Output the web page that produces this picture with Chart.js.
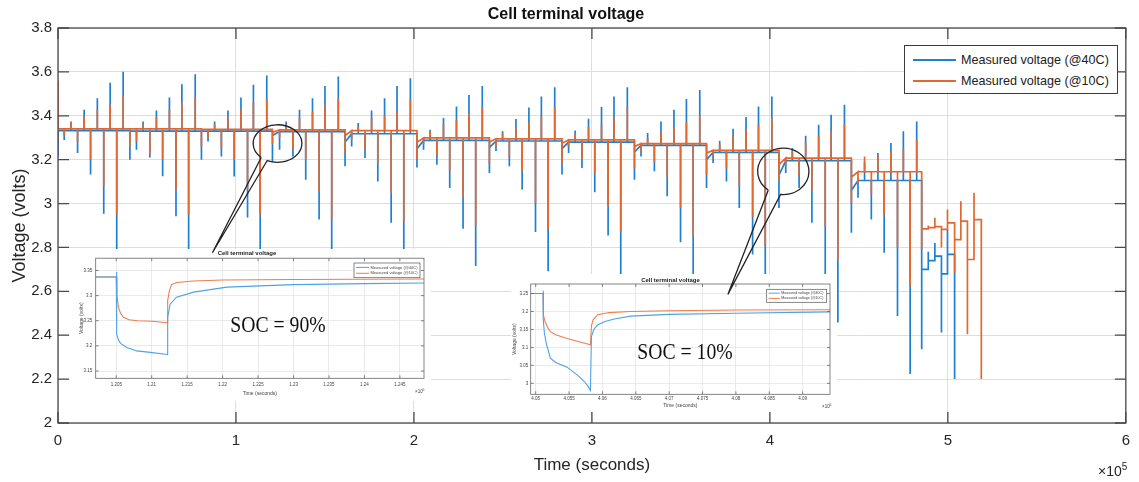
<!DOCTYPE html>
<html><head><meta charset="utf-8">
<script src="https://cdn.jsdelivr.net/npm/chart.js@4.4.1/dist/chart.umd.min.js"></script>
<style>
html,body{margin:0;padding:0;background:#fff;}
#wrap{position:relative;width:1139px;height:482px;overflow:hidden;background:#fff;font-family:'Liberation Sans',Arial,sans-serif;}
canvas{position:absolute;display:block;}
.inset{background:#fff;}
.soc{position:absolute;font-family:'Liberation Serif','Times New Roman',serif;font-size:24px;color:#111;white-space:nowrap;transform:translate(-50%,-50%) scaleX(0.82);}
#legend{position:absolute;left:904px;top:45px;width:212px;height:47px;border:1px solid #3c3c3c;background:#fff;font-size:12.6px;color:#222;}
.lrow{position:absolute;left:0;height:16px;display:flex;align-items:center;white-space:nowrap;}
.lline{display:inline-block;width:43px;height:2px;margin-left:8px;margin-right:5px;}
#xexp{position:absolute;left:1098px;top:461px;font-size:14px;color:#262626;}
#xexp sup{font-size:10px;}
</style></head><body>
<div id="wrap">
<canvas id="mainC" width="1139" height="482" style="left:0;top:0"></canvas>
<canvas id="in1C" class="inset" width="361" height="152" style="left:70px;top:249px"></canvas>
<canvas id="in2C" class="inset" width="326" height="138" style="left:511px;top:274px"></canvas>
<canvas id="overC" width="1139" height="482" style="left:0;top:0;pointer-events:none"></canvas>
<div class="soc" style="left:278px;top:324px">SOC = 90%</div>
<div class="soc" style="left:685px;top:351px">SOC = 10%</div>
<div id="legend">
  <div class="lrow" style="top:6px"><span class="lline" style="background:#1f80d0"></span><span>Measured voltage (@40C)</span></div>
  <div class="lrow" style="top:27px"><span class="lline" style="background:#e3682f"></span><span>Measured voltage (@10C)</span></div>
</div>
<div id="xexp">×10<sup>5</sup></div>
</div>
<script>
// ---------------- DATA (main chart, time in units of 1e5 s) ----------------
const xTicks = [0, 1, 2, 3, 4, 5, 6];
const xTickLabels = ['0', '1', '2', '3', '4', '5', '6'];
const yTicks = [2, 2.2, 2.4, 2.6, 2.8, 3, 3.2, 3.4, 3.6, 3.8];
const yTickLabels = ['2', '2.2', '2.4', '2.6', '2.8', '3', '3.2', '3.4', '3.6', '3.8'];

// pulse instants, one row per pulse group
const pulseTimes = [
  [0, 0.035, 0.073, 0.110, 0.147, 0.183, 0.221, 0.257, 0.293, 0.330, 0.366],
  [0.404, 0.441, 0.478, 0.516, 0.553, 0.588, 0.626, 0.663, 0.696, 0.734, 0.771],
  [0.806, 0.843, 0.880, 0.918, 0.955, 0.990, 1.028, 1.065, 1.098, 1.136, 1.173],
  [1.205, 1.245, 1.282, 1.320, 1.357, 1.392, 1.430, 1.467, 1.500, 1.538, 1.575],
  [1.613, 1.650, 1.687, 1.725, 1.762, 1.797, 1.835, 1.872, 1.905, 1.943, 1.980],
  [2.017, 2.054, 2.091, 2.129, 2.166, 2.201, 2.239, 2.276, 2.309, 2.347, 2.384],
  [2.424, 2.461, 2.498, 2.536, 2.573, 2.608, 2.646, 2.683, 2.716, 2.754, 2.791],
  [2.832, 2.869, 2.906, 2.944, 2.981, 3.016, 3.054, 3.091, 3.124, 3.162, 3.199],
  [3.239, 3.276, 3.313, 3.351, 3.388, 3.423, 3.461, 3.498, 3.531, 3.569, 3.606],
  [3.644, 3.681, 3.718, 3.756, 3.793, 3.828, 3.866, 3.903, 3.936, 3.974, 4.011],
  [4.051, 4.089, 4.126, 4.164, 4.201, 4.236, 4.274, 4.311, 4.344, 4.382, 4.419],
  [4.458, 4.495, 4.532, 4.570, 4.607, 4.642, 4.680, 4.717, 4.750, 4.788, 4.825]
];
// peak voltage of each pulse, @40C
const bluePeaks = [
  [3.215, 3.29, 3.37, 3.23, 3.427, 3.132, 3.48, 2.954, 3.551, 2.79, 3.601],
  [3.2, 3.245, 3.374, 3.21, 3.424, 3.124, 3.483, 2.942, 3.544, 2.776, 3.589],
  [3.2, 3.283, 3.374, 3.215, 3.424, 3.123, 3.483, 2.936, 3.541, 2.768, 3.583],
  [3.19, 3.245, 3.374, 3.215, 3.427, 3.109, 3.48, 2.927, 3.536, 2.755, 3.579],
  [3.17, 3.26, 3.367, 3.208, 3.424, 3.101, 3.48, 2.912, 3.536, 2.74, 3.571],
  [3.164, 3.245, 3.336, 3.177, 3.39, 3.071, 3.442, 2.885, 3.495, 2.715, 3.536],
  [3.139, 3.24, 3.33, 3.17, 3.385, 3.064, 3.438, 2.87, 3.488, 2.692, 3.53],
  [3.132, 3.23, 3.333, 3.162, 3.386, 3.051, 3.44, 2.855, 3.488, 2.677, 3.53],
  [3.109, 3.215, 3.321, 3.147, 3.374, 3.033, 3.427, 2.824, 3.476, 2.64, 3.518],
  [3.071, 3.185, 3.286, 3.101, 3.341, 2.98, 3.394, 2.768, 3.442, 2.624, 3.488],
  [2.98, 3.139, 3.253, 3.071, 3.309, 2.912, 3.359, 2.67, 3.405, 2.458, 3.45],
  [2.867, 3.026, 3.19, 2.927, 3.23, 2.776, 3.276, 2.488, 3.329, 2.223, 3.374]
];
// peak voltage of each pulse, @10C
const orangePeaks = [
  [3.56, 3.31, 3.375, 3.28, 3.397, 3.2, 3.427, 3.079, 3.45, 2.95, 3.491],
  [3.26, 3.28, 3.36, 3.223, 3.395, 3.2, 3.427, 3.064, 3.46, 2.95, 3.485],
  [3.26, 3.3, 3.36, 3.25, 3.39, 3.2, 3.427, 3.064, 3.46, 2.95, 3.477],
  [3.27, 3.3, 3.36, 3.25, 3.39, 3.2, 3.42, 3.056, 3.45, 2.927, 3.48],
  [3.23, 3.29, 3.35, 3.25, 3.39, 3.18, 3.40, 3.049, 3.42, 2.92, 3.475],
  [3.2, 3.27, 3.33, 3.22, 3.36, 3.15, 3.38, 3.026, 3.41, 2.897, 3.44],
  [3.18, 3.26, 3.32, 3.21, 3.35, 3.15, 3.37, 3.0, 3.40, 2.885, 3.44],
  [3.18, 3.26, 3.32, 3.2, 3.35, 3.14, 3.36, 2.99, 3.39, 2.87, 3.44],
  [3.16, 3.24, 3.3, 3.19, 3.33, 3.12, 3.35, 2.98, 3.37, 2.851, 3.405],
  [3.13, 3.21, 3.27, 3.16, 3.31, 3.08, 3.34, 2.94, 3.36, 2.806, 3.39],
  [3.107, 3.17, 3.24, 3.13, 3.28, 3.06, 3.31, 2.897, 3.33, 2.745, 3.36],
  [3.0, 3.09, 3.215, 3.04, 3.22, 2.95, 3.24, 2.799, 3.25, 2.624, 3.291]
];
// rest voltage of each group, and level right after the group's first pulse
const blueRest   = [3.332, 3.33, 3.33, 3.328, 3.318, 3.288, 3.285, 3.28, 3.265, 3.233, 3.195, 3.105];
const orangeRest = [3.34, 3.34, 3.338, 3.336, 3.332, 3.299, 3.295, 3.29, 3.273, 3.243, 3.207, 3.145];
const blueDip    = [3.332, 3.33, 3.33, 3.31, 3.28, 3.25, 3.255, 3.25, 3.235, 3.2, 3.13, 3.06];
const orangeDip  = [3.34, 3.34, 3.338, 3.325, 3.31, 3.28, 3.28, 3.275, 3.26, 3.23, 3.177, 3.12];
// final, irregular part (low SOC)
const tailTimes       = [4.853, 4.890, 4.927, 4.964, 4.998, 5.038, 5.073, 5.110, 5.147, 5.188];
const tailBluePeak    = [2.336, 2.78, 2.82, 2.412, 2.882, 2.2, null, null, null, null];
const tailBlueAfter   = [2.70, 2.74, 2.76, 2.68, 2.768, null, null, null, null, null];
const tailOrangePeak  = [2.79, 2.90, 2.935, 2.80, 2.973, 2.685, 3.01, 2.405, 3.049, 2.2];
const tailOrangeAfter = [2.885, 2.89, 2.895, 2.882, 2.912, 2.836, 2.92, 2.745, 2.927, null];

// ---------------- DATA (insets) ----------------
const in1XTicks = [1.205, 1.21, 1.215, 1.22, 1.225, 1.23, 1.235, 1.24, 1.245];
const in1XLabels = ['1.205', '1.21', '1.215', '1.22', '1.225', '1.23', '1.235', '1.24', '1.245'];
const in1YTicks = [3.15, 3.2, 3.25, 3.3, 3.35];
const in1YLabels = ['3.15', '3.2', '3.25', '3.3', '3.35'];
const in1BlueT = [1.2021, 1.2050, 1.20502, 1.2051, 1.2053, 1.2056, 1.2065, 1.2079, 1.2098, 1.2122, 1.21225, 1.2126, 1.2135, 1.2159, 1.2206, 1.2300, 1.2400, 1.2484];
const in1BlueV = [3.337, 3.337, 3.347, 3.223, 3.212, 3.205, 3.197, 3.19, 3.187, 3.183, 3.257, 3.283, 3.297, 3.307, 3.317, 3.322, 3.324, 3.325];
const in1OrangeT = [1.2021, 1.2050, 1.2051, 1.2053, 1.2056, 1.2060, 1.2068, 1.2080, 1.2100, 1.2122, 1.21225, 1.2125, 1.2128, 1.2135, 1.2159, 1.2200, 1.2300, 1.2484];
const in1OrangeV = [3.337, 3.337, 3.30, 3.277, 3.265, 3.257, 3.252, 3.25, 3.249, 3.246, 3.29, 3.31, 3.322, 3.326, 3.329, 3.331, 3.332, 3.333];

const in2XTicks = [4.05, 4.055, 4.06, 4.065, 4.07, 4.075, 4.08, 4.085, 4.09];
const in2XLabels = ['4.05', '4.055', '4.06', '4.065', '4.07', '4.075', '4.08', '4.085', '4.09'];
const in2YTicks = [3, 3.05, 3.1, 3.15, 3.2, 3.25];
const in2YLabels = ['3', '3.05', '3.1', '3.15', '3.2', '3.25'];
const in2BlueT = [4.0493, 4.0511, 4.05112, 4.05115, 4.0513, 4.0516, 4.0522, 4.0530, 4.0547, 4.0563, 4.0573, 4.0579, 4.0582, 4.05835, 4.0587, 4.0593, 4.0605, 4.0618, 4.0642, 4.0700, 4.0800, 4.0941];
const in2BlueV = [3.25, 3.25, 3.258, 3.177, 3.14, 3.11, 3.07, 3.058, 3.045, 3.022, 3.005, 2.99, 2.98, 3.13, 3.15, 3.163, 3.173, 3.179, 3.187, 3.192, 3.195, 3.199];
const in2OrangeT = [4.0493, 4.0511, 4.05115, 4.0514, 4.0518, 4.0522, 4.0530, 4.0547, 4.0565, 4.0582, 4.05835, 4.0586, 4.0593, 4.0610, 4.0642, 4.0700, 4.0800, 4.0941];
const in2OrangeV = [3.25, 3.25, 3.19, 3.172, 3.155, 3.144, 3.135, 3.125, 3.116, 3.107, 3.16, 3.177, 3.191, 3.197, 3.2, 3.202, 3.204, 3.205];

// callout bubbles (data coordinates of the main chart)
const callouts = [
  {x: 1.2335, y: 3.2736, rx: 0.137, ry: 0.0855, a1: 115, a2: 132, ax: 0.8676, ay: 2.776},
  {x: 4.0754, y: 3.1468, rx: 0.1441, ry: 0.1059, a1: 96, a2: 126, ax: 3.764, ay: 2.586}
];

const BLUE = '#1f80d0', ORANGE = '#e3682f';
const BLUE_IN = '#4ea3e4', ORANGE_IN = '#ee7e4c';

// ---------------- build line points ----------------
function buildSeries(peaks, rest, dip, tPeak, tAfter) {
  const pts = [];
  let level = null;
  for (let g = 0; g < pulseTimes.length; g++) {
    const times = pulseTimes[g];
    for (let e = 0; e < times.length; e++) {
      const t = times[e];
      if (level !== null) pts.push({x: t, y: (e === 1 ? rest[g] : level)});
      pts.push({x: t, y: peaks[g][e]});
      level = (e === 0) ? dip[g] : rest[g];
      pts.push({x: t, y: level});
    }
  }
  for (let i = 0; i < tailTimes.length; i++) {
    if (tPeak[i] === null) break;
    pts.push({x: tailTimes[i], y: level});
    pts.push({x: tailTimes[i], y: tPeak[i]});
    if (tAfter[i] === null) break;
    level = tAfter[i];
    pts.push({x: tailTimes[i], y: level});
  }
  return pts;
}
const zip = (t, v) => t.map((x, i) => ({x: x, y: v[i]}));

Chart.defaults.font.family = "'Liberation Sans', Arial, Helvetica, sans-serif";
Chart.defaults.color = '#262626';

const frameTicks = {
  id: 'frameTicks',
  afterDraw(chart, args, o) {
    const {ctx, chartArea: a, scales} = chart;
    ctx.save();
    ctx.strokeStyle = o.color; ctx.lineWidth = o.width;
    ctx.beginPath();
    scales.x.ticks.forEach(t => {
      const p = scales.x.getPixelForValue(t.value);
      ctx.moveTo(p, a.bottom); ctx.lineTo(p, a.bottom - o.len);
      ctx.moveTo(p, a.top); ctx.lineTo(p, a.top + o.len);
    });
    scales.y.ticks.forEach(t => {
      const p = scales.y.getPixelForValue(t.value);
      ctx.moveTo(a.left, p); ctx.lineTo(a.left + o.len, p);
      ctx.moveTo(a.right, p); ctx.lineTo(a.right - o.len, p);
    });
    ctx.stroke();
    ctx.strokeRect(a.left, a.top, a.right - a.left, a.bottom - a.top);
    if (o.legend) {
      const L = o.legend;
      const x = a.right - L.dx - L.w, y = a.top + L.dy;
      ctx.fillStyle = '#fff'; ctx.fillRect(x, y, L.w, L.h);
      ctx.lineWidth = 0.7; ctx.strokeStyle = '#555'; ctx.strokeRect(x, y, L.w, L.h);
      ctx.font = L.font + "px 'Liberation Sans', Arial, sans-serif";
      ctx.textBaseline = 'middle'; ctx.textAlign = 'left';
      chart.data.datasets.forEach((d, i) => {
        const yy = y + L.h * (i === 0 ? 0.3 : 0.7);
        ctx.strokeStyle = d.borderColor; ctx.lineWidth = 1;
        ctx.beginPath(); ctx.moveTo(x + 2, yy); ctx.lineTo(x + L.lw, yy); ctx.stroke();
        ctx.fillStyle = '#444'; ctx.fillText(d.label, x + L.lw + 1.5, yy);
      });
    }
    if (o.exp) {
      ctx.fillStyle = '#444'; ctx.textBaseline = 'alphabetic'; ctx.textAlign = 'left';
      ctx.font = "4.5px 'Liberation Sans', Arial, sans-serif";
      ctx.fillText('×10', o.exp.x, o.exp.y);
      ctx.font = "3.5px 'Liberation Sans', Arial, sans-serif";
      ctx.fillText('5', o.exp.x + 7.5, o.exp.y - 2.5);
    }
    ctx.restore();
  }
};

function setTicks(vals) { return s => { s.ticks = vals.map(v => ({value: v})); }; }

// ---------------- main chart ----------------
const mainChart = new Chart(document.getElementById('mainC'), {
  type: 'line',
  data: {
    datasets: [
      {label: 'Measured voltage (@10C)', data: buildSeries(orangePeaks, orangeRest, orangeDip, tailOrangePeak, tailOrangeAfter),
       borderColor: ORANGE, borderWidth: 1.7, pointRadius: 0, tension: 0, order: 0},
      {label: 'Measured voltage (@40C)', data: buildSeries(bluePeaks, blueRest, blueDip, tailBluePeak, tailBlueAfter),
       borderColor: BLUE, borderWidth: 1.7, pointRadius: 0, tension: 0, order: 1}
    ]
  },
  options: {
    responsive: false, animation: false, devicePixelRatio: 1,
    layout: {padding: {left: 0, right: 7, top: 0, bottom: 0}},
    plugins: {
      legend: {display: false}, tooltip: {enabled: false},
      title: {display: true, text: 'Cell terminal voltage', color: '#111',
              font: {size: 16, weight: 'bold', lineHeight: 1.2}, padding: {top: 4.5, bottom: 4.3}},
      frameTicks: {color: '#4a4a4a', width: 1.3, len: 11}
    },
    scales: {
      x: {type: 'linear', min: 0, max: 6,
          afterBuildTicks: setTicks(xTicks),
          afterFit: s => { s.height = 59; },
          grid: {color: '#dedede', lineWidth: 1, drawTicks: false},
          border: {display: false},
          ticks: {autoSkip: false, maxRotation: 0, padding: 9, font: {size: 15}, callback: (v, i) => xTickLabels[i]},
          title: {display: true, text: 'Time (seconds)', font: {size: 17, lineHeight: 1.2}, padding: {top: 0, bottom: 6}}},
      y: {type: 'linear', min: 2, max: 3.8,
          afterBuildTicks: setTicks(yTicks),
          afterFit: s => { s.width = 58; },
          grid: {color: '#dedede', lineWidth: 1, drawTicks: false},
          border: {display: false},
          ticks: {autoSkip: false, padding: 6, font: {size: 15}, callback: (v, i) => yTickLabels[i]},
          title: {display: true, text: 'Voltage (volts)', font: {size: 18, lineHeight: 1.2}, padding: {top: 9, bottom: 0}}}
    }
  },
  plugins: [frameTicks]
});

// ---------------- insets ----------------
function makeInset(id, cfg) {
  return new Chart(document.getElementById(id), {
    type: 'line',
    data: {datasets: [
      {label: 'Measured voltage (@40C)', data: zip(cfg.bt, cfg.bv), borderColor: BLUE_IN, borderWidth: 1.1, pointRadius: 0, tension: 0},
      {label: 'Measured voltage (@10C)', data: zip(cfg.ot, cfg.ov), borderColor: ORANGE_IN, borderWidth: 1.1, pointRadius: 0, tension: 0}
    ]},
    options: {
      responsive: false, animation: false, devicePixelRatio: 1,
      layout: {padding: {left: 0, right: 7, top: 0, bottom: 0}},
      plugins: {
        legend: {display: false}, tooltip: {enabled: false},
        title: {display: true, text: 'Cell terminal voltage', color: '#222', font: {size: 6, lineHeight: 1.2}, padding: cfg.titlePad},
        frameTicks: {color: '#666', width: 0.8, len: 3, legend: cfg.legend, exp: cfg.exp}
      },
      scales: {
        x: {type: 'linear', min: cfg.xmin, max: cfg.xmax,
            afterBuildTicks: setTicks(cfg.xt), afterFit: s => { s.height = cfg.xh; },
            grid: {color: '#e4e4e4', lineWidth: 0.8, drawTicks: false}, border: {display: false},
            ticks: {autoSkip: false, maxRotation: 0, padding: cfg.xpad, color: '#444', font: {size: 4.5}, callback: (v, i) => cfg.xl[i]},
            title: {display: true, text: 'Time (seconds)', color: '#444', font: {size: 5, lineHeight: 1.2}, padding: {top: 0, bottom: cfg.xtpad}}},
        y: {type: 'linear', min: cfg.ymin, max: cfg.ymax,
            afterBuildTicks: setTicks(cfg.yt), afterFit: s => { s.width = cfg.yw; },
            grid: {color: '#e4e4e4', lineWidth: 0.8, drawTicks: false}, border: {display: false},
            ticks: {autoSkip: false, padding: cfg.ypad, color: '#444', font: {size: 4.5}, callback: (v, i) => cfg.yl[i]},
            title: {display: true, text: 'Voltage (volts)', color: '#444', font: {size: 5, lineHeight: 1.2}, padding: {top: cfg.ytpad, bottom: 0}}}
      }
    },
    plugins: [frameTicks]
  });
}

makeInset('in1C', {
  bt: in1BlueT, bv: in1BlueV, ot: in1OrangeT, ov: in1OrangeV,
  xmin: 1.2021, xmax: 1.2484, ymin: 3.1355, ymax: 3.3745,
  xt: in1XTicks, xl: in1XLabels, yt: in1YTicks, yl: in1YLabels,
  titlePad: {top: 1, bottom: 1}, xh: 22.7, yw: 25.7, xpad: 4, ypad: 3.5, xtpad: 4.5, ytpad: 8.7,
  legend: {dx: 4, dy: 4.8, w: 66, h: 14.7, lw: 15, font: 4},
  exp: {x: 345, y: 144}
});
makeInset('in2C', {
  bt: in2BlueT, bv: in2BlueV, ot: in2OrangeT, ov: in2OrangeV,
  xmin: 4.04925, xmax: 4.0941, ymin: 2.9694, ymax: 3.2766,
  xt: in2XTicks, xl: in2XLabels, yt: in2YTicks, yl: in2YLabels,
  titlePad: {top: 2.6, bottom: 0.2}, xh: 17.7, yw: 19.7, xpad: 1.5, ypad: 2.5, xtpad: 3, ytpad: 1,
  legend: {dx: 3.3, dy: 5.3, w: 60, h: 13, lw: 13, font: 3.6},
  exp: {x: 311, y: 134}
});

// ---------------- callout bubbles ----------------
(function drawCallouts() {
  const ctx = document.getElementById('overC').getContext('2d');
  const xs = mainChart.scales.x, ys = mainChart.scales.y;
  ctx.strokeStyle = '#222'; ctx.lineWidth = 1.3;
  callouts.forEach(c => {
    const cx = xs.getPixelForValue(c.x), cy = ys.getPixelForValue(c.y);
    const rx = xs.getPixelForValue(c.x + c.rx) - cx, ry = cy - ys.getPixelForValue(c.y + c.ry);
    const ax = xs.getPixelForValue(c.ax), ay = ys.getPixelForValue(c.ay);
    const a1 = c.a1 * Math.PI / 180, a2 = c.a2 * Math.PI / 180;
    ctx.beginPath();
    ctx.ellipse(cx, cy, rx, ry, 0, a2, a1 + 2 * Math.PI);
    ctx.lineTo(ax, ay);
    ctx.lineTo(cx + rx * Math.cos(a2), cy + ry * Math.sin(a2));
    ctx.stroke();
  });
})();
</script>
</body></html>
